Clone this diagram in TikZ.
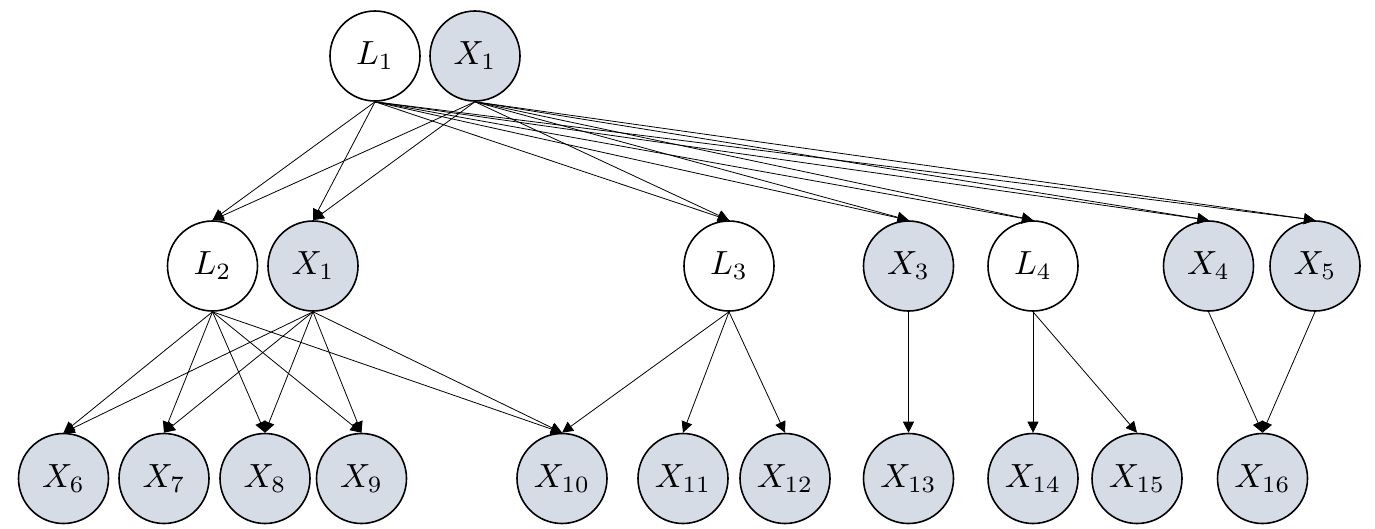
\documentclass[tikz,border=0pt]{standalone}
\usepackage{graphicx}
\usetikzlibrary{arrows.meta}
\definecolor{obs}{HTML}{D6DCE5}
\newcommand{\mylbl}[1]{\scalebox{3.35}{$#1$}}
\begin{document}
\begin{tikzpicture}[x=1pt,y=-1pt,
  var/.style={circle,draw=black,line width=1.6pt,minimum size=90pt,inner sep=0pt,fill=white},
  obsvar/.style={var,fill=obs},
  edge/.style={line width=0.8pt,-{Triangle[length=11pt,width=11pt]}}]
\useasboundingbox (0,0) rectangle (1375,528);
% top row
\node[var]    (L1)  at (375,56) {\mylbl{L_1}};
\node[obsvar] (X1t) at (475,56) {\mylbl{X_1}};
% middle row
\node[var]    (L2)  at (212.5,266) {\mylbl{L_2}};
\node[obsvar] (X1m) at (313,266) {\mylbl{X_1}};
\node[var]    (L3)  at (729,266) {\mylbl{L_3}};
\node[obsvar] (X3)  at (908.5,266) {\mylbl{X_3}};
\node[var]    (L4)  at (1033,266) {\mylbl{L_4}};
\node[obsvar] (X4)  at (1208.5,266) {\mylbl{X_4}};
\node[obsvar] (X5)  at (1315,266) {\mylbl{X_5}};
% bottom row
\node[obsvar] (X6)  at (63.5,478.5) {\mylbl{X_6}};
\node[obsvar] (X7)  at (164,478.5) {\mylbl{X_7}};
\node[obsvar] (X8)  at (265,478.5) {\mylbl{X_8}};
\node[obsvar] (X9)  at (361.5,478.5) {\mylbl{X_9}};
\node[obsvar] (X10) at (562,478.5) {\mylbl{X_{10}}};
\node[obsvar] (X11) at (683,478.5) {\mylbl{X_{11}}};
\node[obsvar] (X12) at (785,478.5) {\mylbl{X_{12}}};
\node[obsvar] (X13) at (908.5,478.5) {\mylbl{X_{13}}};
\node[obsvar] (X14) at (1033,478.5) {\mylbl{X_{14}}};
\node[obsvar] (X15) at (1137,478.5) {\mylbl{X_{15}}};
\node[obsvar] (X16) at (1262.5,478.5) {\mylbl{X_{16}}};
% edges top -> middle
\foreach \s in {L1,X1t}{
  \foreach \t in {L2,X1m,L3,X3,L4,X4,X5}{
    \draw[edge] (\s.south) -- (\t.north);
  }
}
% middle -> bottom
\foreach \s in {L2,X1m}{
  \foreach \t in {X6,X7,X8,X9,X10}{
    \draw[edge] (\s.south) -- (\t.north);
  }
}
\foreach \t in {X10,X11,X12}{\draw[edge] (L3.south) -- (\t.north);}
\draw[edge] (X3.south) -- (X13.north);
\draw[edge] (L4.south) -- (X14.north);
\draw[edge] (L4.south) -- (X15.north);
\draw[edge] (X4.south) -- (X16.north);
\draw[edge] (X5.south) -- (X16.north);
\end{tikzpicture}
\end{document}
